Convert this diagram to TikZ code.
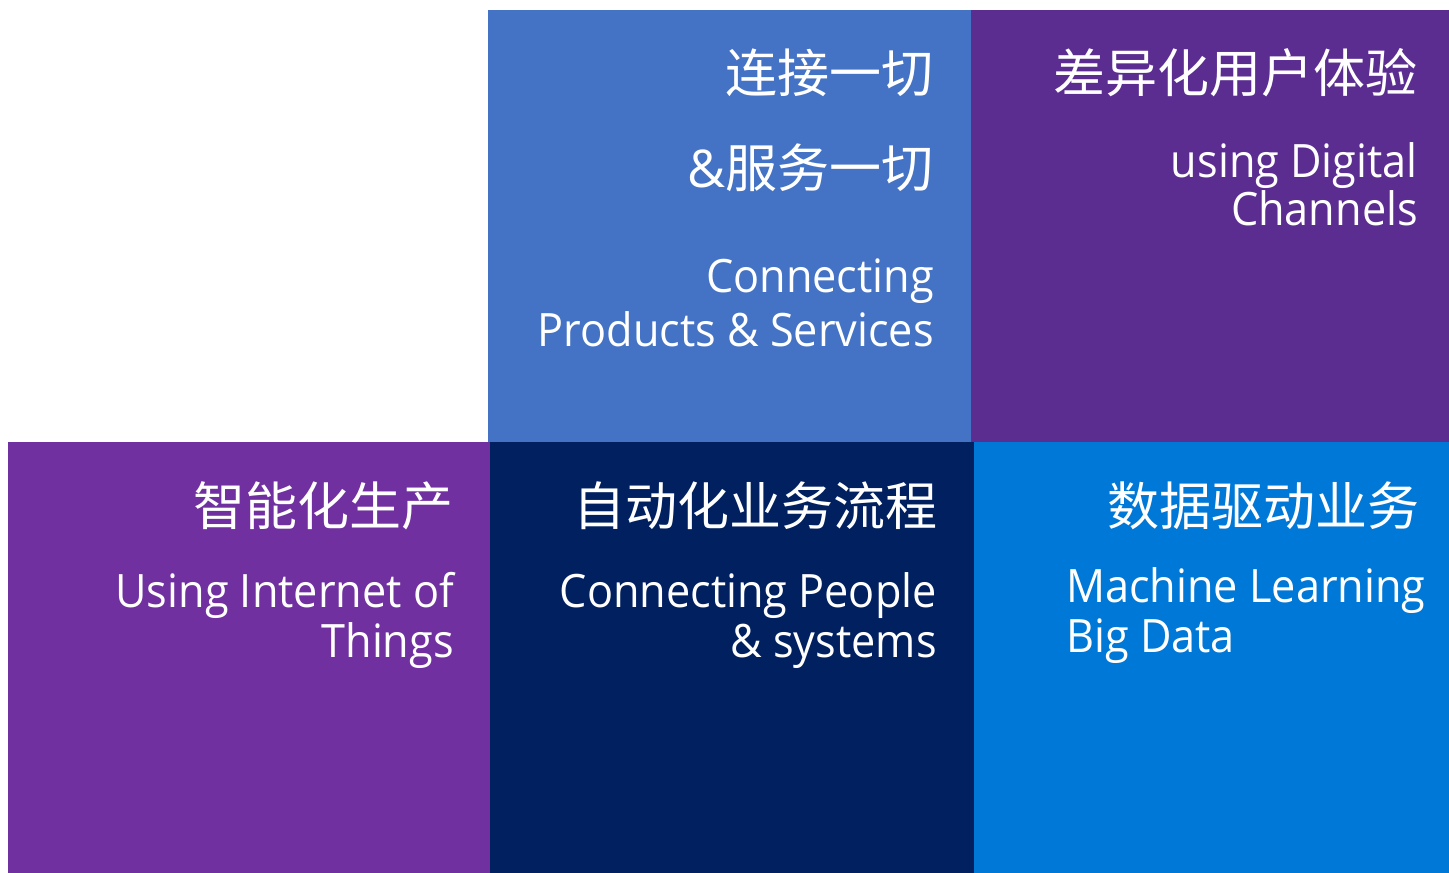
\documentclass[tikz,border=0pt]{standalone}
\usepackage{fontspec}
\setmainfont[FakeStretch=0.94]{Open Sans}
\newfontfamily\cjk{Noto Sans CJK SC}
\newfontfamily\amp{Open Sans}
\definecolor{cA}{HTML}{4472C4}
\definecolor{cB}{HTML}{5C2D91}
\definecolor{cC}{HTML}{7030A0}
\definecolor{cD}{HTML}{002060}
\definecolor{cE}{HTML}{0078D7}
\tikzset{
  zh/.style={text=white, inner sep=0pt, font=\cjk\fontsize{52}{56}\selectfont},
  en/.style={text=white, inner sep=0pt, font=\fontsize{46}{50}\selectfont},
}
\begin{document}
\begin{tikzpicture}[x=1pt,y=-1pt]
\useasboundingbox (0,0) rectangle (1449,873);
\fill[cA] (488,10) rectangle (971,442);
\fill[cB] (971,10) rectangle (1449,442);
\fill[cC] (8,442) rectangle (490,873);
\fill[cD] (490,442) rectangle (974,873);
\fill[cE] (974,442) rectangle (1449,873);
% top middle
\node[zh, anchor=base east] (a1) at (934,92) {连接一切};
\node[zh, anchor=base east] (a2) at (934,187) {{\amp\&}服务一切};
\node[en, anchor=base east] (a3) at (934,292) {Connecting};
\node[en, anchor=base east] (a4) at (934,346) {Products \& Services};
% top right
\node[zh, anchor=base east] (b1) at (1418,92) {差异化用户体验};
\node[en, anchor=base east] (b2) at (1418,177) {using Digital};
\node[en, anchor=base east] (b3) at (1418,225) {Channels};
% bottom left
\node[zh, anchor=base east] (c1) at (454,525) {智能化生产};
\node[en, anchor=base east] (c2) at (454,607) {Using Internet of};
\node[en, anchor=base east] (c3) at (454,657) {Things};
% bottom middle
\node[zh, anchor=base east] (d1) at (938,525) {自动化业务流程};
\node[en, anchor=base east] (d2) at (937,607) {Connecting People};
\node[en, anchor=base east] (d3) at (937,657) {\& systems};
% bottom right
\node[zh, anchor=base east] (e1) at (1420,525) {数据驱动业务};
\node[en, anchor=base west] (e2) at (1066,602) {Machine Learning};
\node[en, anchor=base west] (e3) at (1066,652) {Big Data};
\end{tikzpicture}
\end{document}
